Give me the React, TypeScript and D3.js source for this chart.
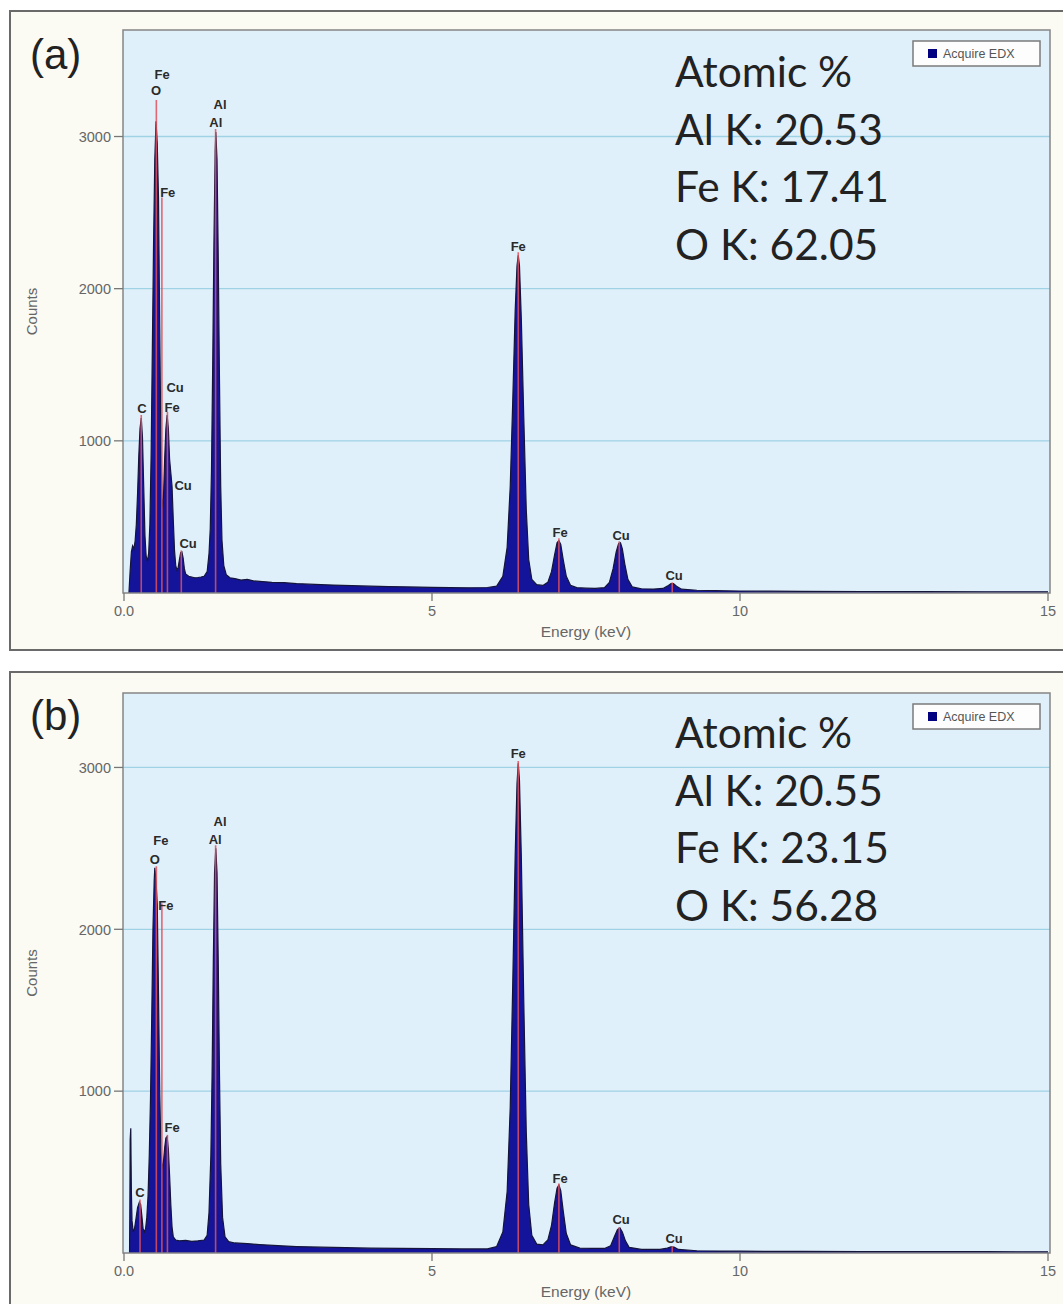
import React from "react";
import * as d3 from "d3";

type Pt = [number, number];

// EDX spectrum (a): [energy keV, counts]
const spectrumA: Pt[] = [
  [0.08, 0], [0.1, 150], [0.12, 270], [0.14, 310], [0.16, 290], [0.18, 340], [0.2, 450], [0.22, 650],
  [0.24, 900], [0.26, 1080], [0.28, 1150], [0.3, 1020], [0.32, 700], [0.34, 380], [0.36, 240], [0.38, 210],
  [0.4, 260], [0.42, 450], [0.44, 900], [0.46, 1600], [0.48, 2300], [0.5, 2850], [0.52, 3100], [0.54, 2950],
  [0.56, 2600], [0.58, 1750], [0.6, 950], [0.62, 560], [0.64, 620], [0.66, 880], [0.68, 1080], [0.7, 1170],
  [0.72, 1080], [0.74, 880], [0.76, 790], [0.78, 700], [0.8, 480], [0.82, 280], [0.84, 180], [0.86, 150],
  [0.88, 170], [0.9, 220], [0.92, 265], [0.94, 270], [0.96, 230], [0.98, 160], [1.0, 125], [1.05, 110],
  [1.1, 105], [1.15, 100], [1.2, 102], [1.25, 105], [1.3, 110], [1.35, 140], [1.38, 260], [1.4, 420],
  [1.42, 800], [1.44, 1500], [1.46, 2300], [1.48, 2900], [1.49, 3030], [1.51, 2850], [1.53, 2200], [1.55, 1400],
  [1.57, 700], [1.59, 350], [1.62, 180], [1.66, 120], [1.72, 100], [1.8, 95], [1.9, 85], [2.0, 90],
  [2.1, 80], [2.25, 75], [2.4, 70], [2.6, 68], [2.8, 62], [3.0, 58], [3.2, 55], [3.4, 52], [3.7, 48],
  [4.0, 45], [4.3, 42], [4.6, 40], [5.0, 37], [5.3, 35], [5.6, 34], [5.9, 36], [6.05, 45], [6.15, 110],
  [6.22, 300], [6.27, 700], [6.31, 1250], [6.35, 1850], [6.38, 2150], [6.4, 2220], [6.42, 2150], [6.45, 1800],
  [6.49, 1150], [6.53, 550], [6.57, 220], [6.62, 90], [6.7, 55], [6.8, 50], [6.88, 70], [6.94, 140],
  [6.99, 250], [7.03, 330], [7.06, 345], [7.09, 320], [7.13, 220], [7.18, 110], [7.25, 50], [7.35, 35],
  [7.5, 32], [7.65, 30], [7.8, 35], [7.88, 70], [7.94, 160], [7.99, 270], [8.03, 325], [8.06, 330],
  [8.09, 290], [8.13, 190], [8.18, 90], [8.25, 40], [8.4, 28], [8.6, 26], [8.75, 30], [8.82, 45],
  [8.88, 62], [8.92, 62], [8.97, 45], [9.05, 25], [9.3, 18], [9.6, 15], [10.0, 13], [10.5, 12],
  [11.0, 11], [12.0, 10], [13.0, 9], [14.0, 8], [15.0, 8],
];

// EDX spectrum (b)
const spectrumB: Pt[] = [
  [0.09, 0], [0.095, 300], [0.1, 700], [0.11, 770], [0.115, 560], [0.12, 380], [0.13, 200], [0.15, 130], [0.17, 150], [0.19, 200],
  [0.22, 280], [0.25, 315], [0.27, 300], [0.29, 230], [0.31, 150], [0.33, 130], [0.35, 150], [0.37, 220],
  [0.39, 350], [0.41, 600], [0.43, 950], [0.45, 1450], [0.47, 2000], [0.49, 2300], [0.5, 2380], [0.52, 2300],
  [0.54, 2150], [0.56, 1600], [0.58, 1000], [0.6, 620], [0.62, 520], [0.64, 560], [0.66, 650], [0.68, 710],
  [0.7, 720], [0.72, 640], [0.74, 480], [0.76, 300], [0.78, 160], [0.8, 100], [0.84, 80], [0.9, 75],
  [1.0, 78], [1.1, 72], [1.2, 75], [1.3, 80], [1.35, 110], [1.38, 250], [1.41, 600], [1.43, 1100],
  [1.45, 1800], [1.47, 2350], [1.49, 2500], [1.51, 2350], [1.53, 1800], [1.55, 1100], [1.57, 550], [1.6, 220],
  [1.64, 100], [1.7, 70], [1.8, 62], [2.0, 58], [2.2, 52], [2.5, 45], [2.8, 40], [3.2, 36], [3.6, 33],
  [4.0, 30], [4.5, 28], [5.0, 27], [5.5, 25], [5.9, 25], [6.05, 40], [6.15, 130], [6.22, 380],
  [6.27, 900], [6.31, 1650], [6.35, 2450], [6.38, 2900], [6.4, 3025], [6.42, 2920], [6.45, 2450], [6.49, 1550],
  [6.53, 750], [6.57, 300], [6.62, 110], [6.7, 55], [6.8, 50], [6.88, 80], [6.94, 170], [6.99, 310],
  [7.03, 400], [7.06, 420], [7.09, 385], [7.13, 260], [7.18, 120], [7.25, 50], [7.4, 30], [7.6, 28],
  [7.8, 28], [7.9, 45], [7.96, 100], [8.01, 145], [8.05, 155], [8.09, 130], [8.14, 75], [8.2, 35],
  [8.4, 22], [8.7, 22], [8.82, 30], [8.88, 38], [8.93, 36], [9.0, 22], [9.3, 14], [9.7, 12],
  [10.0, 11], [11.0, 10], [12.0, 9], [13.0, 8], [14.0, 8], [15.0, 7],
];

// red KLM marker lines: [energy keV, top counts]
const markersA: Pt[] = [
  [0.28, 1170], [0.525, 3240], [0.615, 2600], [0.705, 1190], [0.93, 280], [1.487, 3050],
  [6.4, 2240], [7.06, 360], [8.04, 340], [8.9, 70],
];
const markersB: Pt[] = [
  [0.26, 330], [0.525, 2390], [0.615, 2160], [0.705, 730], [1.487, 2520],
  [6.4, 3040], [7.06, 430], [8.04, 160], [8.9, 40],
];

// peak labels: [text, energy keV, counts at baseline]
const labelsA: [string, number, number][] = [
  ["Fe", 0.62, 3380], ["O", 0.52, 3270], ["Al", 1.56, 3180], ["Al", 1.49, 3060], ["Fe", 0.71, 2600],
  ["C", 0.29, 1185], ["Cu", 0.83, 1320], ["Fe", 0.78, 1190], ["Cu", 0.96, 680], ["Cu", 1.04, 296],
  ["Fe", 6.4, 2250], ["Fe", 7.08, 368], ["Cu", 8.07, 349], ["Cu", 8.93, 86],
];
const labelsB: [string, number, number][] = [
  ["Fe", 0.6, 2520], ["O", 0.5, 2405], ["Al", 1.56, 2640], ["Al", 1.48, 2530], ["Fe", 0.68, 2117],
  ["Fe", 0.78, 747], ["C", 0.26, 346], ["Fe", 6.4, 3060], ["Fe", 7.08, 432], ["Cu", 8.07, 179],
  ["Cu", 8.93, 62],
];

const atomicA = ["Atomic %", "Al K: 20.53", "Fe K: 17.41", "O K: 62.05"];
const atomicB = ["Atomic %", "Al K: 20.55", "Fe K: 23.15", "O K: 56.28"];

const xTicks = [0, 5, 10, 15];
const yTicks = [1000, 2000, 3000];
const legendLabel = "Acquire EDX";

type PanelProps = {
  top: number;
  plotT: number;
  plotB: number;
  yMax: number;
  letter: string;
  spectrum: Pt[];
  markers: Pt[];
  labels: [string, number, number][];
  atomic: string[];
};

function Panel({ top, plotT, plotB, yMax, letter, spectrum, markers, labels, atomic }: PanelProps) {
  const plotL = 123;
  const plotR = 1050;
  const x = d3.scaleLinear().domain([0, 15]).range([124, 1048]);
  const y = d3.scaleLinear().domain([0, yMax]).range([plotB, plotT]);

  const area = d3.area<Pt>().x((d) => x(d[0])).y0(plotB).y1((d) => y(d[1]));
  const line = d3.line<Pt>().x((d) => x(d[0])).y((d) => y(d[1]));

  return (
    <g>
      {/* outer frame */}
      <rect x={10} y={top} width={1080} height={639} fill="#fbfbf4" stroke="#6a6a6a" strokeWidth={2} />
      {/* plot area */}
      <rect x={plotL} y={plotT} width={plotR - plotL} height={plotB - plotT} fill="#e0f0fb" />
      {yTicks.map((t) => (
        <line key={t} x1={plotL} x2={plotR} y1={y(t)} y2={y(t)} stroke="#9fd2e4" strokeWidth={1.3} />
      ))}
      <path d={area(spectrum) ?? ""} fill="#14149a" />
      <path d={line(spectrum) ?? ""} fill="none" stroke="#15153a" strokeWidth={1.2} />
      {markers.map(([e, c], i) => (
        <line key={i} x1={x(e)} x2={x(e)} y1={plotB} y2={y(c)} stroke="#e0505a" strokeOpacity={0.85} strokeWidth={1.6} />
      ))}
      {labels.map(([t, e, c], i) => (
        <text key={i} x={x(e)} y={y(c)} textAnchor="middle" fontSize={13} fontWeight="bold" fill="#2a2a2a">
          {t}
        </text>
      ))}
      <rect x={plotL} y={plotT} width={plotR - plotL} height={plotB - plotT} fill="none" stroke="#858585" strokeWidth={1.5} />

      {/* axes */}
      {yTicks.map((t) => (
        <g key={t}>
          <line x1={114} x2={plotL} y1={y(t)} y2={y(t)} stroke="#777" strokeWidth={1.3} />
          <text x={111} y={y(t)} dy="0.36em" textAnchor="end" fontSize={14.5} fill="#666">
            {t}
          </text>
        </g>
      ))}
      {xTicks.map((t) => (
        <g key={t}>
          <line x1={x(t)} x2={x(t)} y1={plotB} y2={plotB + 8} stroke="#777" strokeWidth={1.3} />
          <text x={x(t)} y={plotB + 23} textAnchor="middle" fontSize={14.5} fill="#666">
            {t === 0 ? "0.0" : t}
          </text>
        </g>
      ))}
      <text x={586} y={plotB + 44} textAnchor="middle" fontSize={15.5} fill="#666">
        Energy (keV)
      </text>
      <text
        transform={`translate(37, ${(plotT + plotB) / 2}) rotate(-90)`}
        textAnchor="middle"
        fontSize={15}
        fill="#666"
      >
        Counts
      </text>

      {/* legend */}
      <rect x={913} y={plotT + 11} width={127} height={25} fill="#fdfdfd" stroke="#7a7a7a" strokeWidth={1.5} />
      <rect x={928} y={plotT + 19} width={9} height={9} fill="#000080" />
      <text x={943} y={plotT + 28} fontSize={12.5} fill="#555">
        {legendLabel}
      </text>

      {/* panel letter and composition */}
      <text x={30} y={top + 58} fontSize={42} fill="#222">
        {letter}
      </text>
      {atomic.map((s, i) => (
        <text key={i} x={675} y={top + 76 + i * 57.5} fontSize={42.5} fill="#222" style={{ fontFamily: "Lato, sans-serif" }}>
          {s}
        </text>
      ))}
    </g>
  );
}

export default function App() {
  return (
    <svg
      width={1063}
      height={1304}
      style={{ position: "absolute", left: 0, top: 0, background: "#fff", fontFamily: "'Liberation Sans', Arial, sans-serif" }}
    >
      <Panel top={11} plotT={30} plotB={593} yMax={3700} letter="(a)" spectrum={spectrumA} markers={markersA} labels={labelsA} atomic={atomicA} />
      <Panel top={672} plotT={693} plotB={1253} yMax={3460} letter="(b)" spectrum={spectrumB} markers={markersB} labels={labelsB} atomic={atomicB} />
    </svg>
  );
}
